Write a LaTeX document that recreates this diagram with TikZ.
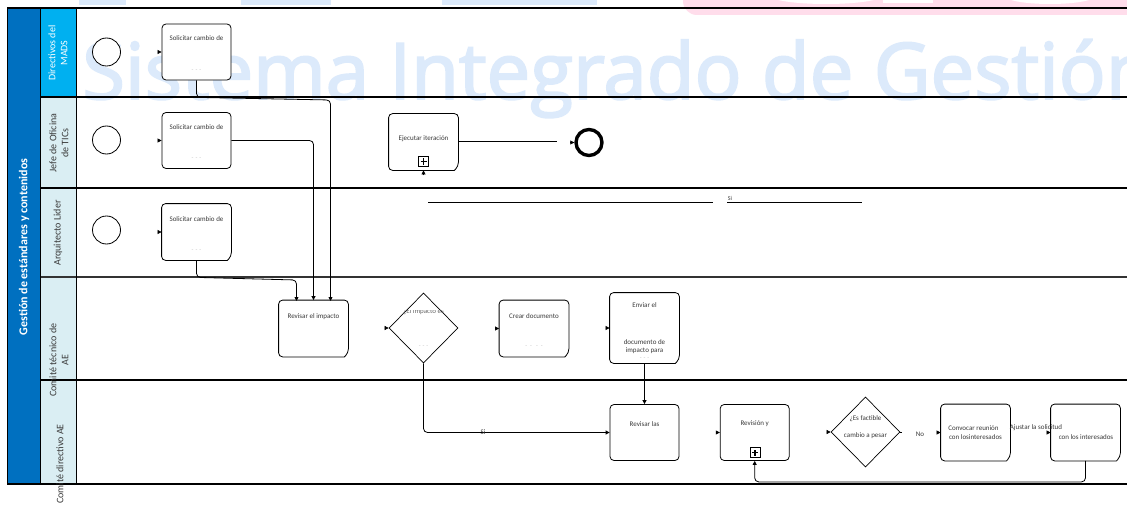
\documentclass[tikz,border=0pt]{standalone}
\usepackage{fontspec}
\setmainfont{Carlito}
\newfontfamily\wmfont{Open Sans}[FakeBold=2.5]
\usepackage{tikz}
\usetikzlibrary{arrows.meta,shapes.geometric,calc}

\definecolor{poolblue}{HTML}{0070C0}
\definecolor{lanecyan}{HTML}{00B0F0}
\definecolor{lanepale}{HTML}{DAEEF3}
\definecolor{wmblue}{HTML}{DCEAFB}
\definecolor{wmpink}{HTML}{FFDDEB}
\definecolor{ink}{HTML}{3A3A3A}

\begin{document}
\begin{tikzpicture}[x=1pt,y=-1pt,>={Triangle[length=4pt,width=4pt]},
			task/.style={draw,rounded corners=4pt,fill=white,line width=0.8pt,minimum width=69pt,minimum height=56pt,inner sep=0pt},
			taskc/.style={task,draw=none},
			chamf/.style={line width=0.8pt,rounded corners=4pt},
			gate/.style={draw,diamond,fill=white,line width=0.7pt,minimum width=69pt,minimum height=70pt,inner sep=0pt},
			start/.style={circle,draw,fill=white,line width=0.8pt,minimum size=28pt,inner sep=0pt},
			finish/.style={circle,draw,fill=white,line width=3.4pt,minimum size=26pt,inner sep=0pt},
			plusbox/.style={draw,fill=white,line width=0.7pt,minimum size=10pt,inner sep=0pt,
				path picture={\draw[line width=1.4pt] ([xshift=-3pt]path picture bounding box.center) -- ([xshift=3pt]path picture bounding box.center)
					([yshift=-3pt]path picture bounding box.center) -- ([yshift=3pt]path picture bounding box.center);}},
			tlab/.style={font=\fontsize{7}{8}\selectfont,text=ink,inner sep=0pt},
			dots/.style={font=\fontsize{6}{6}\selectfont,text=black!25,inner sep=0pt},
			lane/.style={rotate=90,align=center,font=\fontsize{10}{12}\selectfont,text=ink,inner sep=0pt},
			flow/.style={->,line width=0.8pt,rounded corners=4pt},
			plain/.style={line width=0.8pt},
			lanesep/.style={line width=1.1pt},
			]
			\useasboundingbox (0,0) rectangle (1127,508);
			\clip (0,0) rectangle (1127,508);
			\fill[white] (0,0) rectangle (1127,508);
			
			% marca de agua
			\fill[wmpink,rounded corners=14pt] (683,-20) rectangle (1140,15);
			\fill[white] (826,-4) ellipse (55pt and 8pt);
			\fill[white] (883,-5) rectangle (933,3);
			\fill[white] (1050,-4) ellipse (45pt and 8pt);
			\fill[wmblue] (79,-5) rectangle (126,5);
			\fill[wmblue] (241,-5) rectangle (331,5);
			\fill[wmblue] (442,-5) rectangle (597,5);
			\node[anchor=base west,inner sep=0pt,text=wmblue,font=\wmfont\fontsize{78}{78}\selectfont] (marca) at (82,99) {Sistema Integrado de Gestión};
			
			% pool y carriles
			\fill[poolblue] (7,8) rectangle (40,484);
			\fill[lanecyan] (40,8) rectangle (76,97);
			\fill[lanepale] (40,97) rectangle (76,484);
			\draw[line width=1.6pt] (7,8) -- (1127,8);
			\draw[lanesep] (40,97) -- (1127,97);
			\draw[lanesep] (40,188) -- (1127,188);
			\draw[line width=1.8pt,black!80] (40,277) -- (1127,277);
			\draw[lanesep] (40,380) -- (1127,380);
			\draw[lanesep] (7,484) -- (1127,484);
			\draw[plain] (7,8) -- (7,484);
			\draw[plain] (40,8) -- (40,484);
			\draw[plain] (76,8) -- (76,484);
			
			\node[lane,font=\bfseries\fontsize{12}{14}\selectfont,text=white] (pool) at (24,247) {Gestión de estándares y contenidos};
			\node[lane,text=white] (l1) at (58,53) {Directivos del\\MADS};
			\node[lane] (l2) at (59,143) {Jefe de Oficina\\de TICs};
			\node[lane] (l3) at (58,233) {Arquitecto Lider};
			\node[lane] (l4) at (59,360) {Comité técnico de\\AE};
			\node[lane] (l5) at (60,464) {Comité directivo AE};
			
			% eventos de inicio
			\node[start] (s1) at (106.5,52) {};
			\node[start] (s2) at (106.5,140) {};
			\node[start] (s3) at (106.5,230) {};
			
			% tareas
			\node[task] (t1) at (196.5,52) {};
			\node[task] (t2) at (196.5,140.5) {};
			\node[taskc] (t3) at (196.5,232) {};
			\node[taskc] (imp) at (313.5,328.5) {};
			\node[taskc] (ejec) at (423.5,142) {};
			\node[gate] (gw1) at (423.5,328) {};
			\node[taskc] (crear) at (534,328.5) {};
			\node[taskc,minimum height=70pt] (enviar) at (644.5,328) {};
			\node[task] (revlas) at (644.5,432.5) {};
			\node[task] (revy) at (754.7,432.5) {};
			\node[gate] (gw2) at (865.5,432) {};
			\node[taskc] (conv) at (975.5,432.5) {};
			\node[taskc] (ajust) at (1085.5,432.5) {};
			\node[finish] (fin) at (589,142.5) {};
			
			% contorno con esquina cortada
			\foreach \n in {t3,imp,ejec,crear,enviar,conv,ajust}
			\draw[chamf] ([xshift=-4pt]\n.south east) -- (\n.south west) -- (\n.north west) -- (\n.north east)
			-- ([yshift=4pt]\n.south east) [sharp corners] -- cycle;
			
			\node[plusbox] (ejecp) at (423.5,161.5) {};
			\node[plusbox] (revyp) at (755,452.5) {};
			
			% textos
			\node[tlab] (t1a) at (196.5,38) {Solicitar cambio de};
			\node[dots] (t1b) at (196.5,71) {-\,\,-\,\,-};
			\node[tlab] (t2a) at (196.5,127) {Solicitar cambio de};
			\node[dots] (t2b) at (196.5,159) {-\,\,-\,\,-};
			\node[tlab] (t3a) at (196.5,219) {Solicitar cambio de};
			\node[dots] (t3b) at (196.5,251) {-\,\,-\,\,-};
			\node[tlab] (impa) at (313.5,317) {Revisar el impacto};
			\node[tlab] (ejeca) at (423.5,139) {Ejecutar iteración};
			\begin{scope}
				\clip (385,310) rectangle (462,322);
				\node[tlab,text=black!60] (gw1a) at (423.5,312) {¿El impacto es};
			\end{scope}
			\node[dots] (gw1b) at (423.5,347) {-\,\,-\,\,-};
			\node[tlab] (creara) at (534,316) {Crear documento};
			\node[dots] (crearb) at (534,347) {-\,\,\,-\,\,\,\,-\,\,\,-};
			\node[tlab] (envia) at (644.5,305) {Enviar el};
			\node[tlab] (envib) at (644.5,342) {documento de};
			\node[tlab] (envic) at (644.5,351) {impacto para};
			\node[dots] (envid) at (644.5,359) {-\,\,-\,\,-};
			\node[tlab] (revlasa) at (644.5,424) {Revisar las};
			\node[tlab] (revya) at (754.7,424) {Revisión y};
			\node[tlab] (gw2a) at (865.5,419) {¿Es factible};
			\node[tlab] (gw2b) at (865.5,436) {cambio a pesar};
			\node[tlab] (conva) at (973.5,428) {Convocar reunión};
			\node[tlab] (convb) at (975.5,437) {con losinteresados};
			\node[tlab] (ajusta) at (1036,428) {Ajustar la solicitud};
			\node[tlab] (ajustb) at (1086,437) {con los interesados};
			
			% flujos
			\draw[flow] (t1.south) -- ++(0,17) -- (330.5,100) -- (330.5,301);
			\draw[flow] (t2.east) -| (imp.north);
			\draw[flow] (t3.south) -- ++(0,17) -- (296.5,280) -- (296.5,301);
			\draw[flow] (gw1.south) |- (revlas.west) node[tlab,pos=0.66] (si1) {Si};
			\draw[flow] (enviar.south) -- (revlas.north);
			\draw[flow] (ajust.south) -- ++(0,21) -| (revy.south);
			\coordinate (e1) at (557,141.7);
			\draw[plain] (ejec.east |- e1) -- (e1);
			\draw[plain] (gw2.east) -- ++(2,0);
			\node[tlab] (no) at (920,434) {No};
			
			% linea del carril Arquitecto
			\coordinate (a1) at (428,202);
			\coordinate (a2) at (713,202);
			\coordinate (a3) at (727,202);
			\coordinate (a4) at (862,202);
			\draw[plain] (a1) -- (a2);
			\draw[plain] (a3) -- (a4);
			\node[tlab,font=\fontsize{6}{6}\selectfont] (si2) at (730,198.5) {Si};
			
			% puntas sueltas
			\foreach \n in {t1,t2,t3,gw1,crear,enviar,revy,gw2,conv,ajust,fin}
			\draw[->,line width=0.6pt] ([xshift=-4pt]\n.west) -- (\n.west);
			\draw[->,line width=0.6pt] ([yshift=-5pt]ejec.south) -- (ejec.south);
		\end{tikzpicture}
\end{document}
